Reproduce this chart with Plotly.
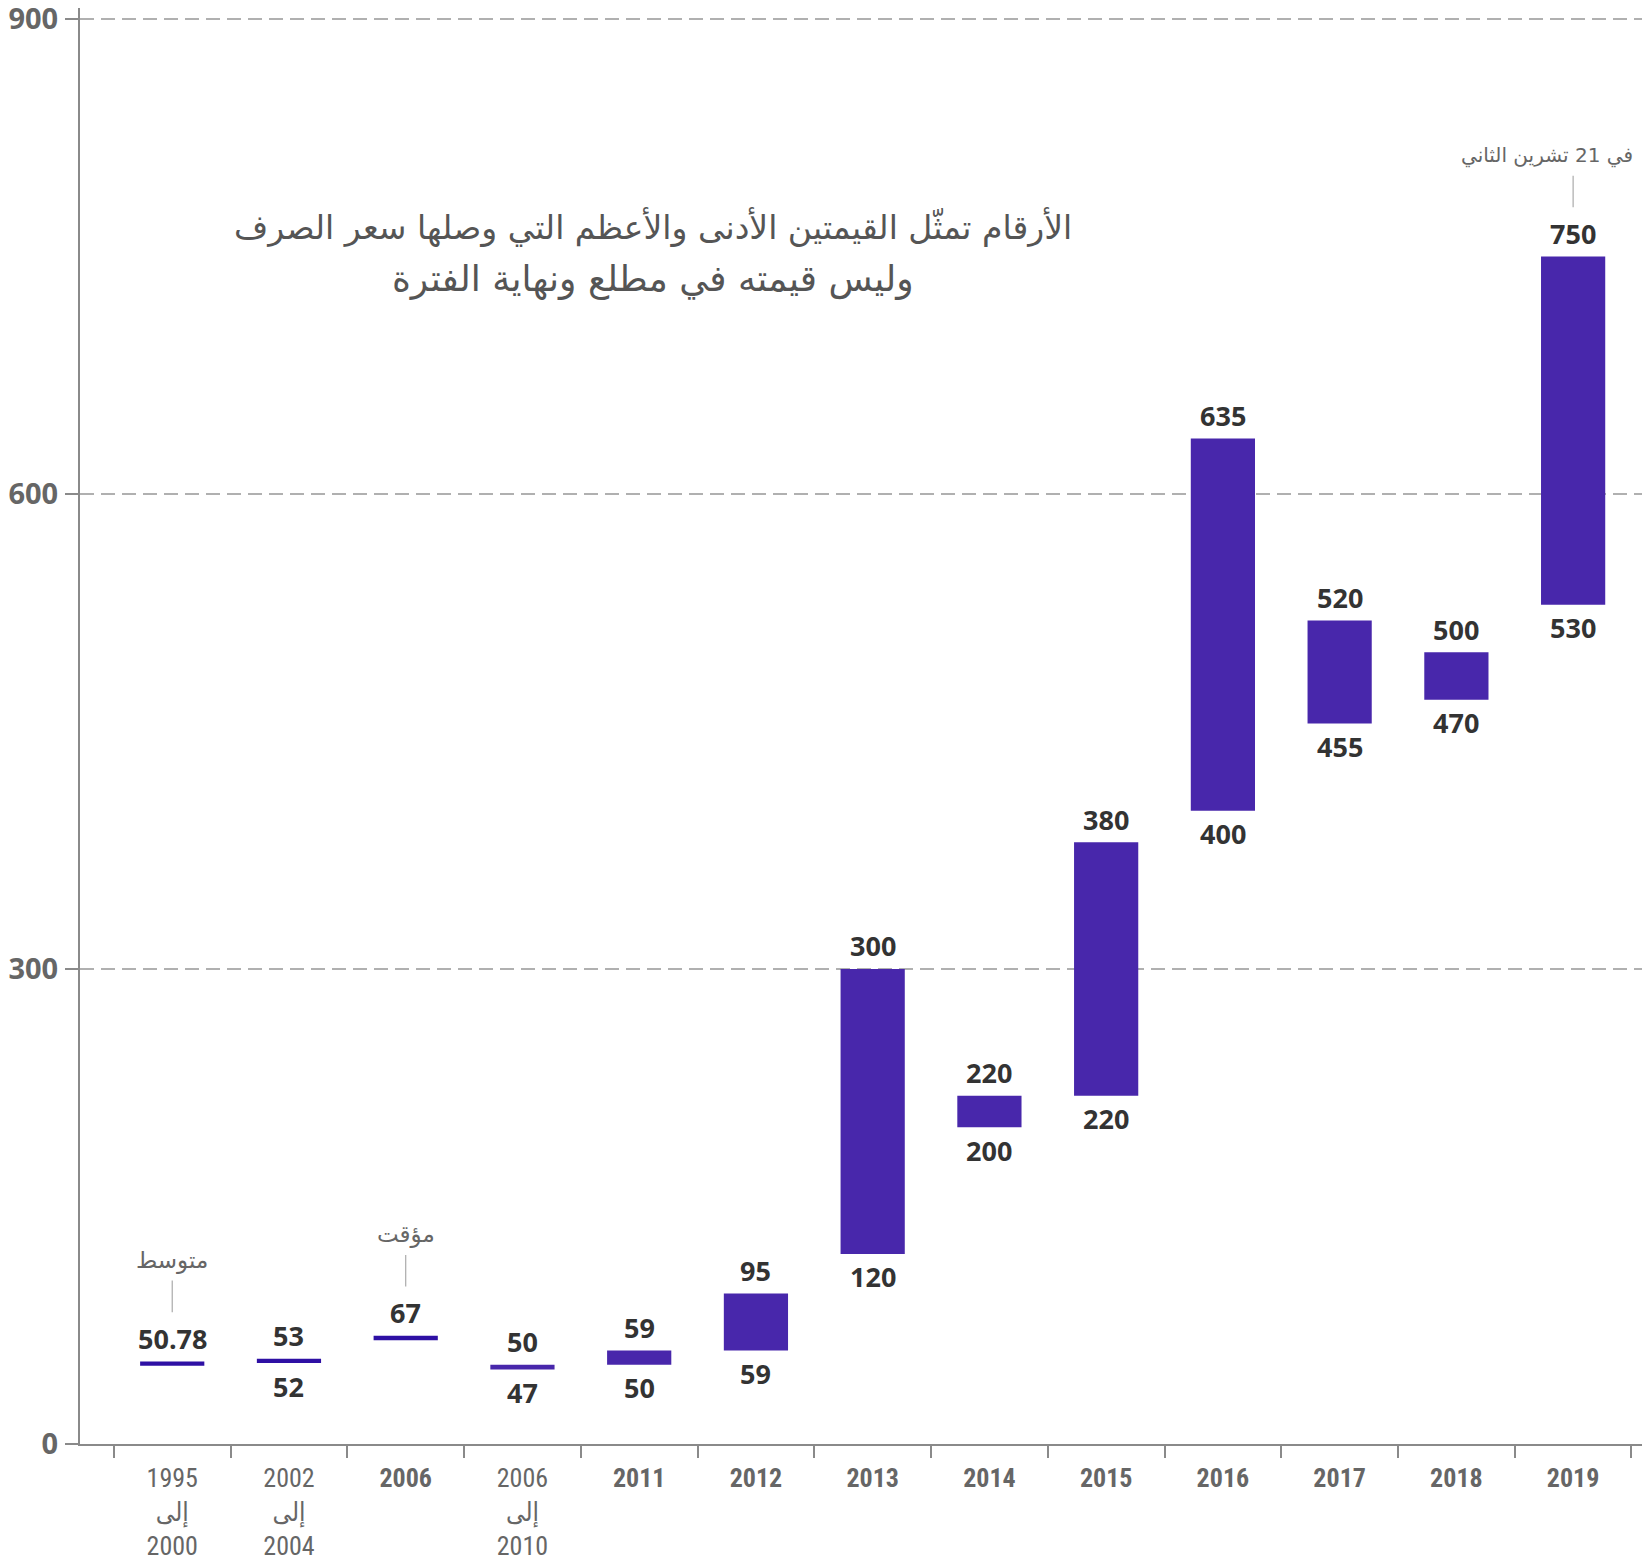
import plotly.graph_objects as go

# ---- data ----
categories = ["1995<br>إلى<br>2000", "2002<br>إلى<br>2004", "2006", "2006<br>إلى<br>2010",
              "2011", "2012", "2013", "2014", "2015", "2016", "2017", "2018", "2019"]
low_values = [50.78, 52, 67, 47, 50, 59, 120, 200, 220, 400, 455, 470, 530]
high_values = [50.78, 53, 67, 50, 59, 95, 300, 220, 380, 635, 520, 500, 750]
low_labels = ["", "52", "", "47", "50", "59", "120", "200", "220", "400", "455", "470", "530"]
high_labels = ["50.78", "53", "67", "50", "59", "95", "300", "220", "380", "635", "520", "500", "750"]
notes = [("1995<br>إلى<br>2000", "متوسط"), ("2006", "مؤقت"), ("2019", "في 21 تشرين الثاني")]
title_lines = ["الأرقام تمثّل القيمتين الأدنى والأعظم التي وصلها سعر الصرف",
               "وليس قيمته في مطلع ونهاية الفترة"]
y_ticks = [0, 300, 600, 900]

# ---- styling ----
DARK = "#2E10A4"
MAIN = "#4827AB"
bar_colors = [DARK, DARK, DARK] + [MAIN] * (len(categories) - 3)
MIN_THICK = 2.8  # minimum visible thickness in data units
AR_FONT = "DejaVu Sans, sans-serif"
NARROW = "Roboto Condensed, Liberation Sans Narrow, DejaVu Sans Condensed, Open Sans, sans-serif"

x_labels = [c if "<br>" in c else f"<b>{c}</b>" for c in categories]

bases, heights = [], []
for lo, hi in zip(low_values, high_values):
    span = hi - lo
    if span < MIN_THICK:
        mid = (lo + hi) / 2
        bases.append(mid - MIN_THICK / 2)
        heights.append(MIN_THICK)
    else:
        bases.append(lo)
        heights.append(span)

fig = go.Figure()
fig.add_trace(go.Bar(
    x=x_labels, y=heights, base=bases, width=0.55,
    marker=dict(color=bar_colors, line=dict(width=0)),
    hoverinfo="skip", showlegend=False,
))

annotations = []
LABEL_FONT = dict(family="Open Sans, Noto Sans, sans-serif", size=27, color="#333333")
for xl, b, h, ht, lt in zip(x_labels, bases, heights, high_labels, low_labels):
    if ht:
        annotations.append(dict(x=xl, y=b + h, xref="x", yref="y", text=f"<b>{ht}</b>",
                                showarrow=False, yanchor="middle", yshift=23, font=LABEL_FONT))
    if lt:
        annotations.append(dict(x=xl, y=b, xref="x", yref="y", text=f"<b>{lt}</b>",
                                showarrow=False, yanchor="middle", yshift=-23, font=LABEL_FONT))

# leader notes
label_of = dict(zip(categories, x_labels))
idx_of = {c: i for i, c in enumerate(categories)}
shapes = []
for cat, note in notes:
    i = idx_of[cat]
    top = bases[i] + heights[i]
    shapes.append(dict(type="line", xref="x", yref="y", x0=label_of[cat], x1=label_of[cat],
                       y0=top + 31, y1=top + 51, line=dict(color="#aaaaaa", width=1.2)))
    last = (i == len(categories) - 1)
    annotations.append(dict(x=label_of[cat], y=top + 64, xref="x", yref="y", text=note,
                            showarrow=False, yanchor="middle",
                            xanchor="right" if last else "center", xshift=62 if last else 0,
                            font=dict(family=AR_FONT, size=20 if last else 23, color="#666666")))

for line, py, sz in zip(title_lines, [0.8475, 0.8113], [33, 36]):
    annotations.append(dict(x=0.3668, y=py, xref="paper", yref="paper", text=line,
                            showarrow=False, xanchor="center", yanchor="middle",
                            font=dict(family=AR_FONT, size=sz, color="#555555")))

fig.update_layout(
    width=1644, height=1556,
    margin=dict(l=72, r=10, t=0, b=120),
    paper_bgcolor="white", plot_bgcolor="white",
    annotations=annotations, shapes=shapes,
    font=dict(family="Open Sans, Noto Sans, sans-serif", color="#666666"),
)
fig.update_xaxes(
    type="category", range=[-0.79, 12.59], automargin=False,
    showline=True, linecolor="#8a8a8a", linewidth=2,
    ticks="outside", tickson="boundaries", ticklen=12, tickwidth=2, tickcolor="#8a8a8a",
    tickfont=dict(family=NARROW, size=26, color="#666666"), ticklabelstandoff=10,
    showgrid=False, zeroline=False,
)
fig.update_yaxes(
    range=[0, 906.9], tickvals=y_ticks, ticktext=[f"<b>{v}</b>" for v in y_ticks],
    automargin=False, ticklabeloverflow="allow",
    showline=True, linecolor="#8a8a8a", linewidth=2,
    ticks="outside", ticklen=13, tickwidth=2, tickcolor="#8a8a8a",
    tickfont=dict(family="Open Sans, sans-serif", size=29, color="#666666"), ticklabelstandoff=1,
    showgrid=True, gridcolor="#b0b0b0", gridwidth=1.5, griddash="14px,7px",
    zeroline=False,
)

fig.write_html("out.html")
